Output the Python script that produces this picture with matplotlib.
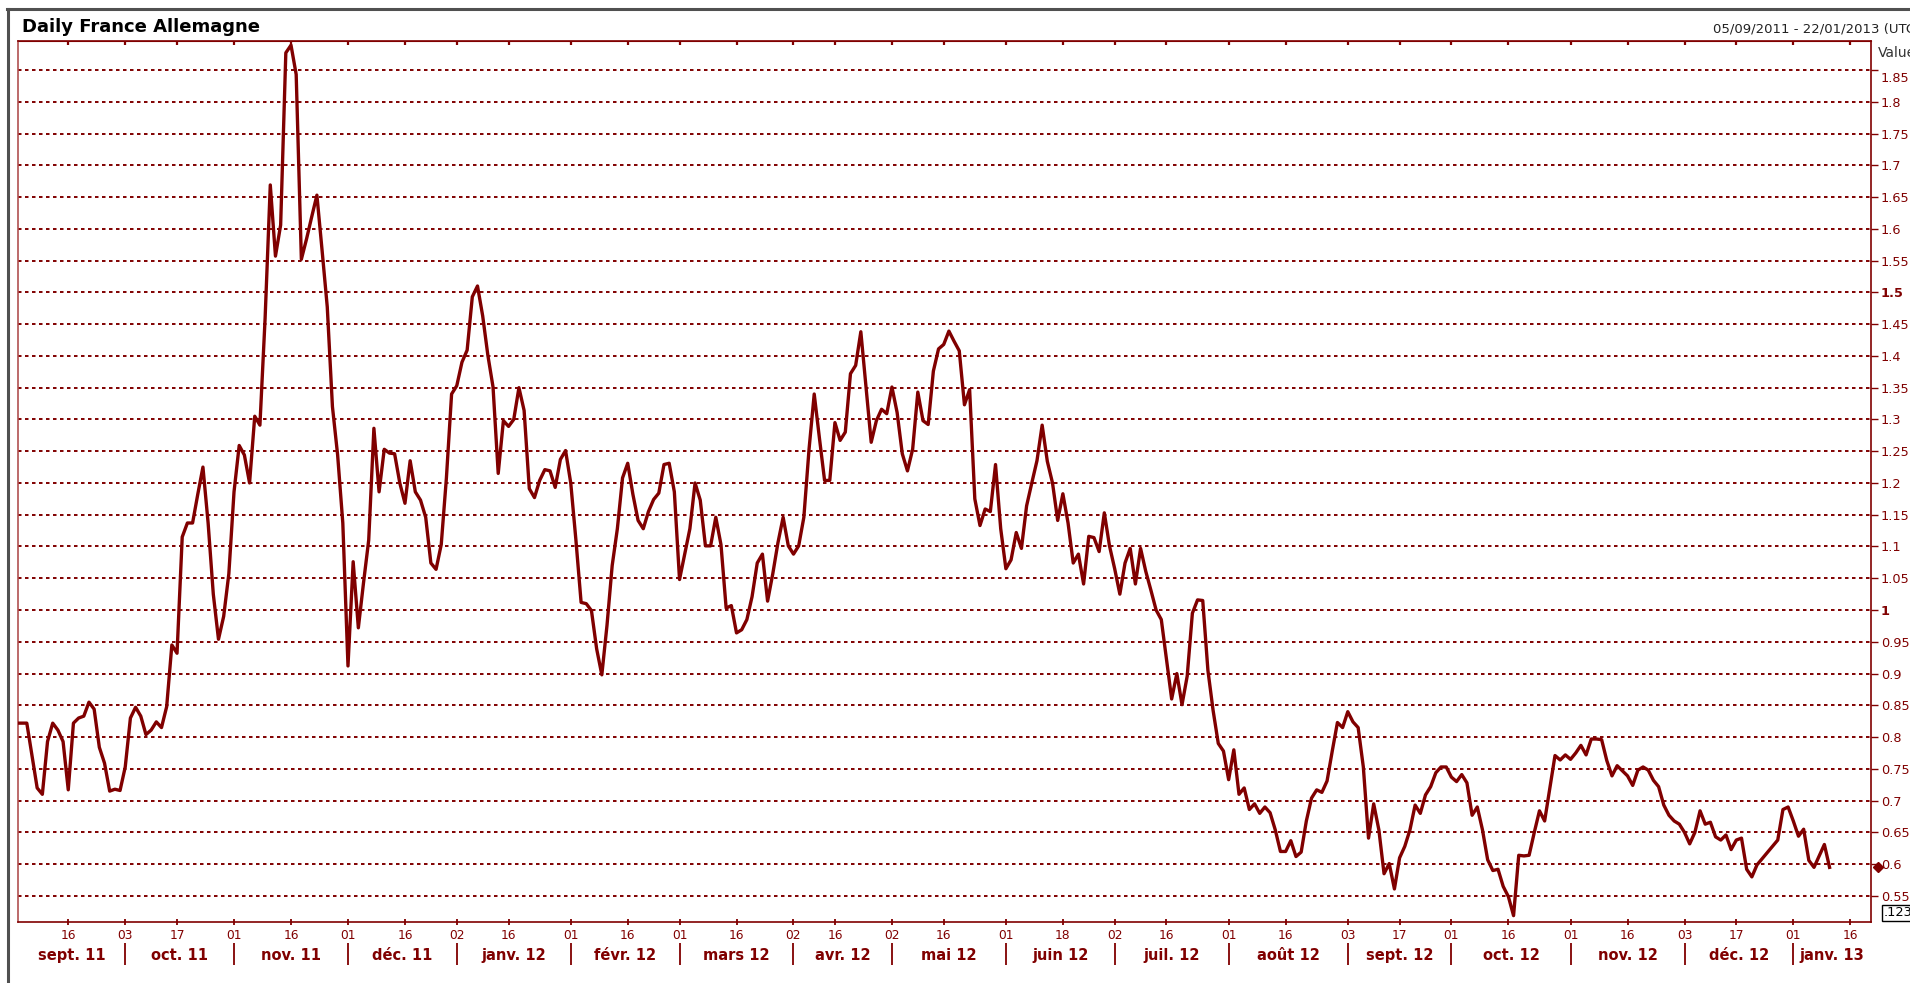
import matplotlib
matplotlib.use('Agg')
import matplotlib.pyplot as plt
from matplotlib.lines import Line2D
from matplotlib.transforms import ScaledTranslation
import numpy as np
import pandas as pd

plt.rcParams['font.family'] = ['DejaVu Sans']

DARK_RED = '#800000'

# trading calendar used by the x axis
START = '2011-09-02'
END = '2013-01-22'
HOLIDAYS = ['2011-12-26', '2012-04-06', '2012-04-09', '2012-05-01']

# one value per trading day from START (None = no print that day)
spread = [
    .822, None, .822, None, .720, .710, .793, .822, .811, .793,
    .717, .822, .830, .833, .855, .844, .784, .759, .715, .718,
    .716, .753, .830, .847, .833, .804, .811, .824, .815, .848,
    .945, .932, 1.115, 1.137, 1.137, 1.182, 1.225, 1.137, 1.025, .954,
    .990, 1.057, 1.186, 1.259, 1.244, 1.200, 1.305, 1.291, 1.459, 1.669,
    1.557, 1.606, 1.877, 1.889, 1.843, 1.552, 1.584, 1.619, 1.653, 1.566,
    1.477, 1.320, 1.244, 1.137, .912, 1.076, .972, 1.043, 1.110, 1.286,
    1.186, 1.253, 1.247, 1.246, 1.200, 1.168, 1.235, 1.186, 1.173, 1.146,
    1.074, 1.064, 1.103, 1.208, 1.340, 1.353, 1.390, 1.409, 1.493, 1.510,
    1.463, 1.401, 1.351, 1.215, 1.298, 1.289, 1.300, 1.350, 1.314, 1.191,
    1.177, 1.204, 1.221, 1.219, 1.193, 1.237, 1.251, 1.200, 1.110, 1.012,
    1.010, .999, .939, .898, .976, 1.070, 1.128, 1.208, 1.231, 1.182,
    1.141, 1.128, 1.155, 1.174, 1.184, 1.229, 1.231, 1.186, 1.048, 1.088,
    1.128, 1.200, 1.173, 1.101, 1.101, 1.146, 1.103, 1.003, 1.007, .964,
    .969, .985, 1.021, 1.074, 1.088, 1.014, 1.057, 1.106, 1.146, 1.101,
    1.088, 1.101, 1.146, 1.253, 1.340, 1.271, 1.204, 1.204, 1.295, 1.267,
    1.280, 1.372, 1.385, 1.438, 1.351, 1.264, 1.298, 1.316, 1.309, 1.351,
    1.311, 1.246, 1.219, 1.253, 1.343, 1.298, 1.292, 1.376, 1.411, 1.418,
    1.439, 1.423, 1.408, 1.323, 1.347, 1.175, 1.133, 1.159, 1.155, 1.229,
    1.128, 1.065, 1.079, 1.122, 1.097, 1.164, 1.200, 1.235, 1.291, 1.234,
    1.200, 1.141, 1.183, 1.137, 1.074, 1.088, 1.041, 1.116, 1.114, 1.092,
    1.153, 1.101, 1.065, 1.025, 1.074, 1.097, 1.041, 1.097, 1.061, 1.031,
    1.000, .985, .923, .860, .900, .851, .896, .995, 1.016, 1.015,
    .905, .842, .790, .778, .733, .780, .710, .720, .686, .695,
    .680, .690, .681, .654, .620, .620, .637, .612, .619, .668,
    .704, .717, .713, .731, .778, .823, .815, .840, .824, .815,
    .753, .641, .695, .654, .585, .601, .561, .610, .628, .654,
    .693, .680, .709, .722, .744, .753, .753, .737, .730, .741,
    .728, .677, .690, .654, .607, .590, .592, .565, .549, .519,
    .614, .613, .614, .650, .684, .668, .720, .771, .764, .772,
    .765, .775, .787, .772, .797, .797, .796, .763, .739, .755,
    .747, .739, .724, .748, .753, .748, .732, .722, .693, .677,
    .668, .663, .650, .632, .650, .684, .663, .666, .643, .638,
    .646, .623, .638, .641, .592, .580, .599, None, None, None,
    .638, .686, .690, .668, .644, .655, .606, .595, .613, .631, .595,
]

tick_dates = ['2011-09-16', '2011-10-03', '2011-10-17', '2011-11-01', '2011-11-16',
              '2011-12-01', '2011-12-16', '2012-01-02', '2012-01-16', '2012-02-01',
              '2012-02-16', '2012-03-01', '2012-03-16', '2012-04-02', '2012-04-16',
              '2012-05-02', '2012-05-16', '2012-06-01', '2012-06-18', '2012-07-02',
              '2012-07-16', '2012-08-01', '2012-08-16', '2012-09-03', '2012-09-17',
              '2012-10-01', '2012-10-16', '2012-11-01', '2012-11-16', '2012-12-03',
              '2012-12-17', '2013-01-01', '2013-01-16']
months = ['sept. 11', 'oct. 11', 'nov. 11', 'déc. 11', 'janv. 12', 'févr. 12',
          'mars 12', 'avr. 12', 'mai 12', 'juin 12', 'juil. 12', 'août 12',
          'sept. 12', 'oct. 12', 'nov. 12', 'déc. 12', 'janv. 13']
y_ticks = [0.55, 0.6, 0.65, 0.7, 0.75, 0.8, 0.85, 0.9, 0.95, 1.0, 1.05, 1.1, 1.15,
           1.2, 1.25, 1.3, 1.35, 1.4, 1.45, 1.5, 1.55, 1.6, 1.65, 1.7, 1.75, 1.8, 1.85]

cal = pd.bdate_range(START, END, freq='C', holidays=HOLIDAYS)
vals = pd.Series(spread, dtype=float).dropna()

W, H = 1910, 983
fig = plt.figure(figsize=(W / 100, H / 100), dpi=100)
ax = fig.add_axes([18 / W, 1 - 922 / H, 1853 / W, 881 / H])

ax.plot(vals.index, vals.values, color=DARK_RED, lw=2.4, zorder=3)

xmin, xmax = 0.3, len(cal) - 1
ax.set_xlim(xmin, xmax)
ax.set_ylim(0.509, 1.8956)

# x axis: day numbers, month bands underneath
tick_pos = cal.get_indexer(pd.to_datetime(tick_dates))
ax.set_xticks(tick_pos, [d[-2:] for d in tick_dates])
ax.tick_params(axis='x', direction='inout', length=4, width=1.3, color=DARK_RED,
               labelcolor=DARK_RED, labelsize=8.8, pad=3)

bounds = [p for d, p in zip(tick_dates, tick_pos) if int(d[-2:]) <= 3]
edges = [xmin] + bounds + [xmax]
xt = ax.get_xaxis_transform()
ax.vlines(bounds, -0.0238, -0.0488, transform=xt, colors=DARK_RED, lw=1.3, clip_on=False)
for a, b, m in zip(edges[:-1], edges[1:], months):
    ax.text((a + b) / 2, -0.0431, m, transform=xt, ha='center', va='baseline',
            fontsize=10.5, fontweight='bold', color=DARK_RED)

top = ax.secondary_xaxis('top')
top.set_xticks(tick_pos, [''] * len(tick_pos))
top.tick_params(direction='in', length=3, width=1.6, color=DARK_RED)
top.spines['top'].set_color(DARK_RED)

# y axis on the right
ax.yaxis.tick_right()
ax.set_yticks(y_ticks, [f'{v:g}' for v in y_ticks])
ax.tick_params(axis='y', direction='out', length=5, width=1, color=DARK_RED,
               labelcolor=DARK_RED, labelsize=9.3, pad=2)
for lab in ax.get_yticklabels():
    if lab.get_text() in ('1.5', '1'):
        lab.set_fontweight('bold')
ax.grid(axis='y', color=DARK_RED, linestyle=(0, (1.8, 1.8)), linewidth=1.4)
ax.set_axisbelow(True)

for side in ['top', 'right', 'bottom']:
    ax.spines[side].set_color(DARK_RED)
    ax.spines[side].set_linewidth(1.2)
ax.spines['left'].set_color('#b05050')
ax.spines['left'].set_linewidth(1.2)

# last value marker on the right axis
ax.plot([1.0036], [vals.iloc[-1]], transform=ax.get_yaxis_transform(), marker='D',
        ms=5, color=DARK_RED, clip_on=False, zorder=5)

fig.text(22 / W, 1 - 32 / H, 'Daily France Allemagne', fontsize=13, fontweight='bold',
         va='baseline')
fig.text(1713 / W, 1 - 32.7 / H, '05/09/2011 - 22/01/2013 (UTC)', fontsize=9.5,
         color='#222222', va='baseline')
fig.text(1878 / W, 1 - 56.7 / H, 'Value', fontsize=10, color='#333333', va='baseline')
fig.text(1884 / W, 1 - 913 / H, '.123', fontsize=9.3, va='center',
         bbox=dict(boxstyle='square,pad=0.15', fc='white', ec='black', lw=1))

# grey outer frame
fig.add_artist(Line2D([8 / W, 8 / W], [0, 1 - 8.5 / H], color='#505050', lw=2.2))
fig.add_artist(Line2D([7 / W, 1], [1 - 8.5 / H, 1 - 8.5 / H], color='#505050', lw=2.2))

# top value label sits a little below its tick, clear of "Value"
fig.canvas.draw()
for t in ax.yaxis.get_major_ticks():
    if t.label2.get_text() == '1.85':
        t.label2.set_transform(t.label2.get_transform()
                               + ScaledTranslation(0, -0.07, fig.dpi_scale_trans))

fig.savefig('out.png', dpi=100)
